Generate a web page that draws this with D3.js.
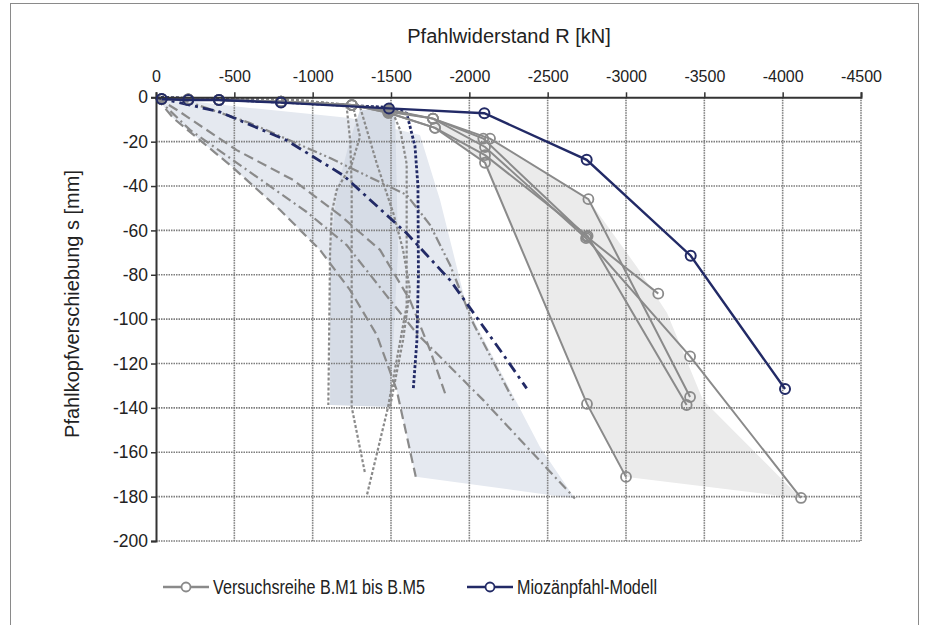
<!DOCTYPE html>
<html><head><meta charset="utf-8">
<script src="https://cdn.jsdelivr.net/npm/d3@7"></script>
<style>
html,body{margin:0;padding:0;background:#fff;}
svg{display:block;}
text{font-family:"Liberation Sans",Arial,sans-serif;fill:#222;}
</style></head>
<body><svg id="c" width="935" height="625"></svg>
<script>
// ---------- data ----------
const xTicks = [0,-500,-1000,-1500,-2000,-2500,-3000,-3500,-4000,-4500];
const yTicks = [0,-20,-40,-60,-80,-100,-120,-140,-160,-180,-200];
const xTitle = "Pfahlwiderstand R [kN]";
const yTitle = "Pfahlkopfverschiebung s [mm]";
const legendLabels = ["Versuchsreihe B.M1 bis B.M5","Miozänpfahl-Modell"];

// Miozänpfahl-Modell (navy, solid with markers)
const modelR = [-36,-206,-402,-798,-1487,-2096,-2749,-3413,-4015];
const modelS = [-0.8,-1.2,-1.2,-2.4,-5,-7.2,-28.2,-71.4,-131.5];

// Versuchsreihe B.M1 .. B.M5 (gray, solid with markers)
const testR1 = [-36,-206,-402,-798,-1250,-1483,-1768,-2089,-2750,-3206];
const testS1 = [-0.8,-1,-1.2,-2,-3.5,-6,-9.6,-18.6,-62.9,-88.5];
const testR2 = [-36,-206,-402,-798,-1250,-1483,-1768,-2100,-2745,-3409,-4117];
const testS2 = [-0.8,-1,-1.2,-2,-3.5,-6.5,-9.6,-22.4,-63.5,-116.8,-180.6];
const testR3 = [-36,-206,-402,-798,-1250,-1483,-1768,-2132,-2760,-3409];
const testS3 = [-0.8,-1,-1.2,-2,-3.5,-5.5,-9.6,-18.6,-45.9,-135.1];
const testR4 = [-36,-206,-402,-798,-1250,-1483,-1781,-2100,-2755,-3387];
const testS4 = [-0.8,-1,-1.2,-2,-3.5,-7,-13.8,-26.1,-62.5,-138.7];
const testR5 = [-36,-206,-402,-798,-1250,-1483,-1781,-2100,-2751,-3000];
const testS5 = [-0.8,-1,-1.2,-2,-3.5,-7,-13.8,-29.5,-138.2,-171.1];

// navy model variants (dash-dot and dotted)
const modelDashR = [0,-408,-834,-1196,-1600,-1877,-2196,-2366];
const modelDashS = [0,-6.6,-19.4,-35.2,-61.3,-82.4,-113.9,-131.2];
const modelDotR = [0,-400,-800,-1500,-1600,-1653,-1672,-1675,-1665,-1642];
const modelDotS = [0,-1,-2.2,-4.6,-7.2,-22,-40,-80,-110,-131.8];

// gray simulation curves
const simR1 = [0,-109,-472,-792,-1047,-1238,-1409,-1536,-1658];
const simS1 = [0,-9.3,-30.5,-50.8,-68.8,-86.8,-107.1,-131.9,-171.0];
const simR2 = [0,-217,-600,-962,-1217,-1494,-1664,-2089,-2674];
const simS2 = [0,-14.7,-33.7,-51.7,-66.6,-91.4,-106.4,-136.5,-180.8];
const simR3 = [0,-134,-515,-876,-1174,-1430,-1621,-1749,-1845];
const simS3 = [0,-5.7,-23.8,-37.3,-53.1,-68.8,-91.4,-113.9,-133.4];
const simR4 = [0,-172,-600,-1111,-1600,-1749,-1877,-2025,-2281];
const simS4 = [0,-1.2,-11.6,-27.4,-44.0,-57.5,-75.6,-101.9,-136.6];
const dotR1 = [0,-1000,-1259,-1302,-1250,-1153,-1121,-1111,-1100];
const dotS1 = [0,-2,-4.2,-17.8,-30,-41.8,-52.3,-70.2,-138.7];
const dotR2 = [0,-1000,-1217,-1240,-1249,-1249,-1334];
const dotS2 = [0,-2,-4.2,-20,-40,-139.6,-169.4];
const dotR3 = [0,-1000,-1500,-1560,-1600,-1600,-1600,-1480,-1344];
const dotS3 = [0,-2,-5,-15,-30,-60,-94,-140,-180];
const dotR4 = [0,-919,-1302,-1409,-1515,-1577,-1621,-1577,-1494];
const dotS4 = [0,-1.2,-4.2,-29.8,-52.3,-68.8,-86.8,-109.4,-139.5];

// shaded ranges
const bandAR = [0,-600,-1238,-1685,-1813,-1983,-2451,-2674,-1658,-1536,-1409,-1238,-1047,-792,-472,-109];
const bandAS = [0,-4.8,-9.3,-17.0,-46.3,-94.4,-157.6,-180.8,-171.0,-132.0,-107.2,-86.9,-68.8,-50.8,-30.5,-9.3];
const bandBR = [-1111,-1111,-1155,-1238,-1302,-1526,-1545,-1494];
const bandBS = [-138.7,-70.2,-41.8,-19.2,-5.7,-5.7,-68.8,-139.6];
const bandCR = [-1768,-2132,-2757,-3070,-3262,-3491,-4117,-2994,-2753,-2096,-1781];
const bandCS = [-9.3,-18.8,-45.8,-76.5,-97.2,-136.4,-180.8,-171.0,-138.4,-29.5,-13.8];

// ---------- drawing ----------
const svg = d3.select("#c");
const x = d3.scaleLinear().domain([0,-4500]).range([156,861]);
const y = d3.scaleLinear().domain([0,-200]).range([97.3,541]);
const zip = (R,S)=>R.map((r,i)=>[r,S[i]]);
const line = d3.line().x(d=>x(d[0])).y(d=>y(d[1]));
const GRAY = "#8a8a8a", NAVY = "#222a66";

// frame
svg.append("rect").attr("x",10.5).attr("y",3.5).attr("width",908).attr("height",640)
  .attr("fill","none").attr("stroke","#8a8a8a").attr("stroke-width",1);

// shaded areas
const poly = (R,S,fill)=>svg.append("path").attr("d",line(zip(R,S))+"Z").attr("fill",fill).attr("stroke","none");
poly(bandCR,bandCS,"#ebebeb");
poly(bandAR,bandAS,"#e5e9f0");
poly(bandBR,bandBS,"#d6dce6");

// grid
const grid = svg.append("g");
grid.selectAll("line.v").data(xTicks.slice(1)).join("line")
  .attr("x1",d=>x(d)).attr("x2",d=>x(d)).attr("y1",y(0)).attr("y2",y(-200))
  .attr("stroke","#7d7d7d").attr("stroke-width",1.6).attr("stroke-dasharray","1.5,1");
grid.selectAll("line.h").data(yTicks.slice(1)).join("line")
  .attr("y1",d=>y(d)).attr("y2",d=>y(d)).attr("x1",x(0)).attr("x2",x(-4500))
  .attr("stroke","#7d7d7d").attr("stroke-width",1.6).attr("stroke-dasharray","1.5,1");

// simulation curves
const drawLine=(R,S,color,w,dash)=>svg.append("path").attr("d",line(zip(R,S)))
  .attr("fill","none").attr("stroke",color).attr("stroke-width",w).attr("stroke-dasharray",dash)
  .attr("stroke-linejoin","round");
drawLine(dotR1,dotS1,GRAY,2.2,"3,2");
drawLine(dotR2,dotS2,GRAY,2.2,"3,2");
drawLine(dotR3,dotS3,GRAY,2.2,"3,2");
drawLine(dotR4,dotS4,GRAY,2.2,"3,2");
drawLine(simR1,simS1,GRAY,2.2,"10,5");
drawLine(simR2,simS2,GRAY,2.2,"10,4,2,4");
drawLine(simR3,simS3,GRAY,2.2,"10,5");
drawLine(simR4,simS4,GRAY,2.2,"10,3,2,3,2,3");
drawLine(modelDotR,modelDotS,NAVY,2.8,"3,2");
drawLine(modelDashR,modelDashS,NAVY,2.8,"11,5,3,5");

// test series
const tests = [[testR1,testS1],[testR2,testS2],[testR3,testS3],[testR4,testS4],[testR5,testS5]];
tests.forEach(([R,S])=>{
  svg.append("path").attr("d",line(zip(R,S))).attr("fill","none").attr("stroke",GRAY).attr("stroke-width",2);
});
tests.forEach(([R,S])=>{
  svg.append("g").selectAll("circle").data(zip(R,S)).join("circle")
    .attr("cx",d=>x(d[0])).attr("cy",d=>y(d[1])).attr("r",5)
    .attr("fill","none").attr("stroke",GRAY).attr("stroke-width",1.8);
});

// axes
const xAxis = d3.axisTop(x).tickValues(xTicks).tickSize(5).tickFormat(d=>String(d));
const yAxis = d3.axisLeft(y).tickValues(yTicks).tickSize(5).tickFormat(d=>String(d));
const gx = svg.append("g").attr("transform",`translate(0,${y(0)})`).call(xAxis);
const gy = svg.append("g").attr("transform",`translate(${x(0)},0)`).call(yAxis);
[gx,gy].forEach(g=>{
  g.select(".domain").attr("stroke","#333").attr("stroke-width",2);
  g.selectAll(".tick line").attr("stroke","#333").attr("stroke-width",1.5);
  g.selectAll(".tick text").attr("fill","#222")
   .attr("font-family",'"Liberation Sans",Arial,sans-serif');
});
gx.selectAll(".tick text").attr("font-size",16).attr("dy","-0.45em");
gy.selectAll(".tick text").attr("font-size",17.5).attr("x",-8);

// model series on top
svg.append("path").attr("d",line(zip(modelR,modelS))).attr("fill","none").attr("stroke",NAVY).attr("stroke-width",2.4);
svg.append("g").selectAll("circle").data(zip(modelR,modelS)).join("circle")
  .attr("cx",d=>x(d[0])).attr("cy",d=>y(d[1])).attr("r",5)
  .attr("fill","none").attr("stroke",NAVY).attr("stroke-width",2);

// titles
svg.append("text").attr("x",509).attr("y",43).attr("text-anchor","middle").attr("font-size",20).text(xTitle);
svg.append("text").attr("transform","translate(79,304) rotate(-90)").attr("text-anchor","middle").attr("font-size",20).text(yTitle);

// legend
const leg = [{x0:163,c:GRAY,t:legendLabels[0],w:212},{x0:467,c:NAVY,t:legendLabels[1],w:140}];
leg.forEach(l=>{
  const g = svg.append("g");
  g.append("line").attr("x1",l.x0).attr("x2",l.x0+46).attr("y1",587).attr("y2",587).attr("stroke",l.c).attr("stroke-width",2.4);
  g.append("circle").attr("cx",l.x0+23).attr("cy",587).attr("r",4.5).attr("fill","white").attr("stroke",l.c).attr("stroke-width",1.8);
  g.append("text").attr("x",l.x0+50).attr("y",594).attr("font-size",19.5).attr("fill","#444")
    .attr("textLength",l.w).attr("lengthAdjust","spacingAndGlyphs").text(l.t);
});
</script></body></html>
